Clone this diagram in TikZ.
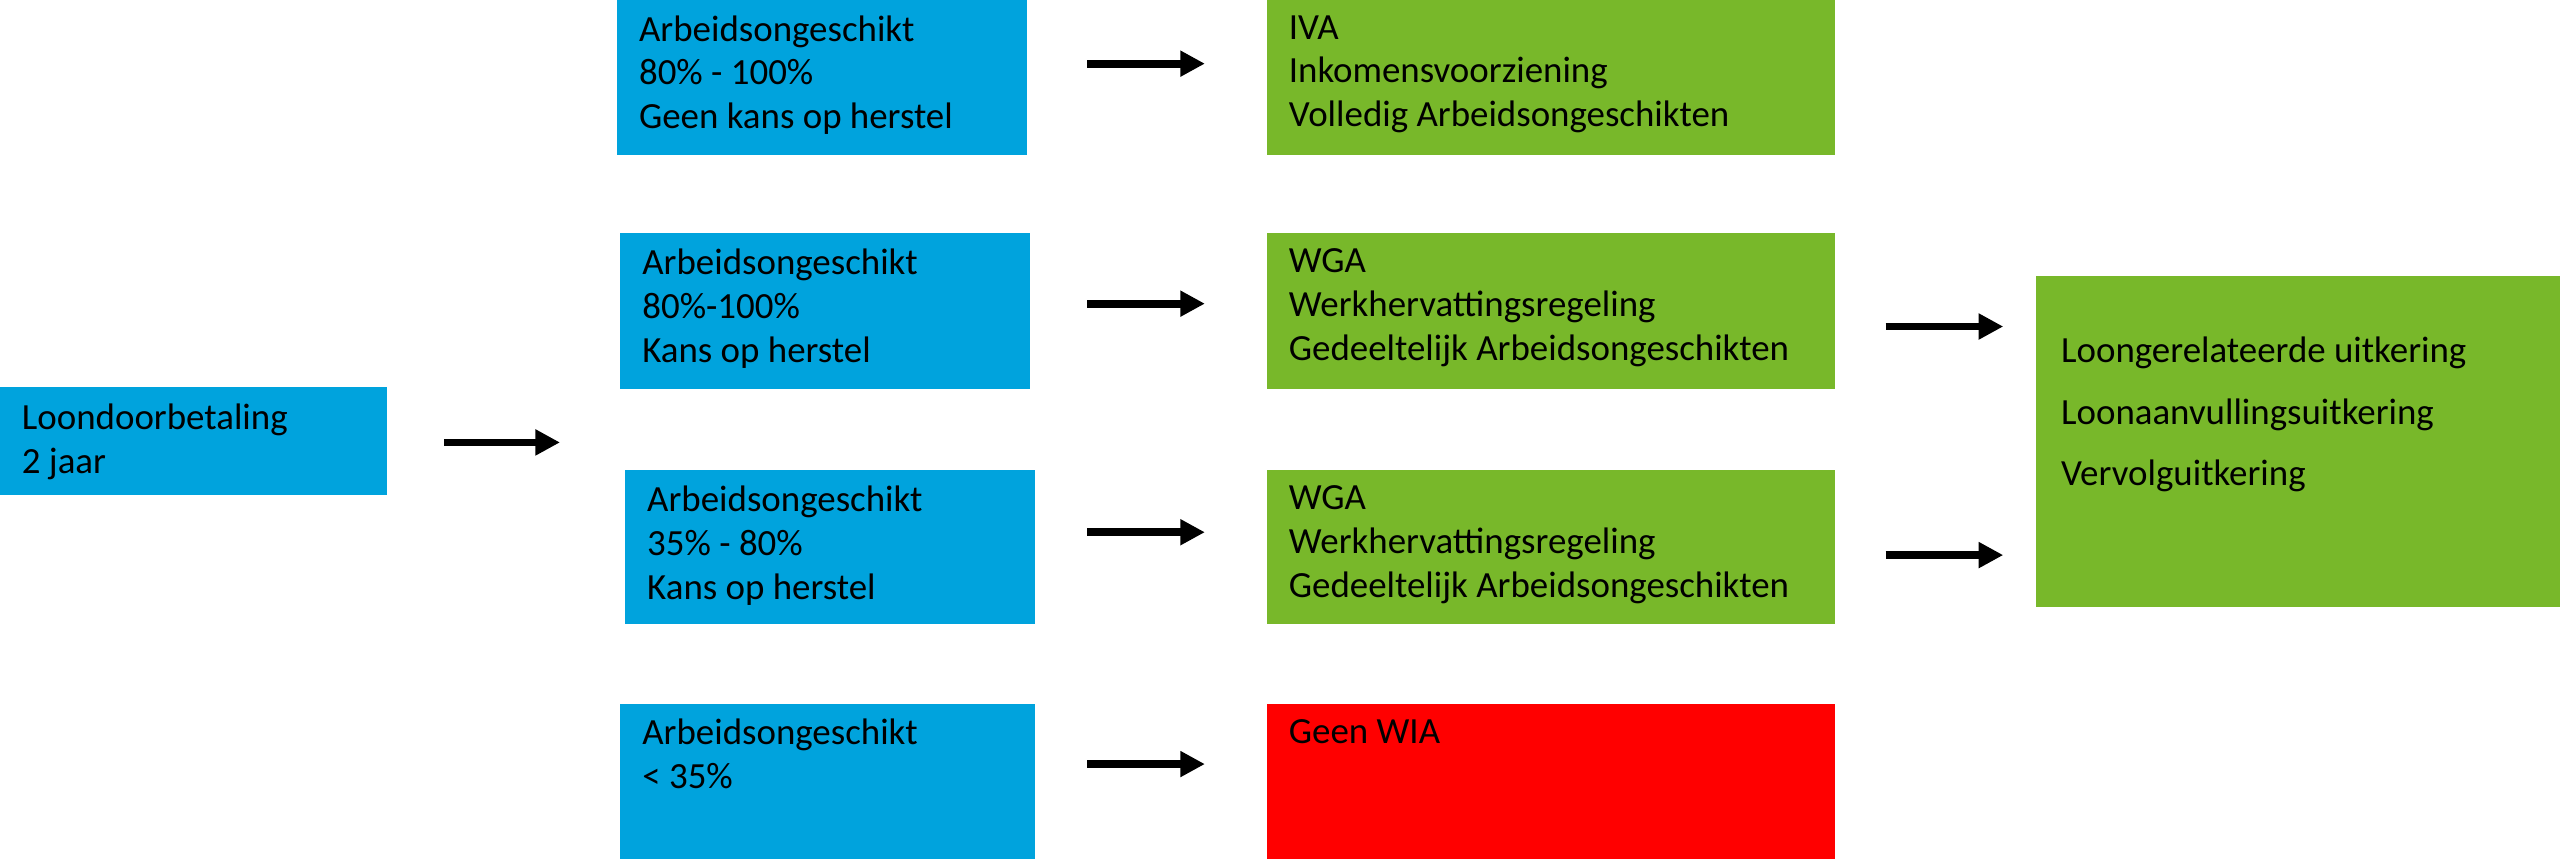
\documentclass[tikz,border=0pt]{standalone}
\usepackage{fontspec}
\setmainfont{Carlito}
\usetikzlibrary{arrows.meta}
\definecolor{cblue}{HTML}{00A3DD}
\definecolor{cgreen}{HTML}{78B82A}
\definecolor{cred}{HTML}{FF0000}
\begin{document}
\begin{tikzpicture}[x=0.01633cm,y=-0.01633cm,
  box/.style={inner sep=0pt},
  txt/.style={anchor=north west,align=left,font=\fontsize{10.5}{12.5}\selectfont,inner sep=0pt},
  arr/.style={line width=2.2pt,-{Triangle[length=7pt,width=7pt]}}]
\useasboundingbox (0,0) rectangle (1568,526);
\newcommand{\bx}[6]{\fill[#6] (#2,#3) rectangle (#4,#5); \coordinate (#1) at (#2,#3);}
\bx{L}{0}{237}{237}{303}{cblue}
\bx{B1}{378}{0}{629}{95}{cblue}
\bx{B2}{380}{143}{631}{238}{cblue}
\bx{B3}{383}{288}{634}{382}{cblue}
\bx{B4}{380}{431}{634}{526}{cblue}
\bx{G1}{776}{0}{1124}{95}{cgreen}
\bx{G2}{776}{143}{1124}{238}{cgreen}
\bx{G3}{776}{288}{1124}{382}{cgreen}
\bx{R}{776}{431}{1124}{526}{cred}
\bx{G4}{1247}{169}{1568}{372}{cgreen}
\node[txt] (tL) at (13,247) {Loondoorbetaling\\2 jaar};
\node[txt] (t1) at (391,9) {Arbeidsongeschikt\\80\% - 100\%\\Geen kans op herstel};
\node[txt] (t2) at (393,152) {Arbeidsongeschikt\\80\%-100\%\\Kans op herstel};
\node[txt] (t3) at (396,297) {Arbeidsongeschikt\\35\% - 80\%\\Kans op herstel};
\node[txt] (t4) at (393,440) {Arbeidsongeschikt\\< 35\%};
\node[txt] (g1) at (789,9) {IVA\\Inkomensvoorziening\\Volledig Arbeidsongeschikten};
\node[txt] (g2) at (789,152) {WGA\\Werkhervattingsregeling\\Gedeeltelijk Arbeidsongeschikten};
\node[txt] (g3) at (789,297) {WGA\\Werkhervattingsregeling\\Gedeeltelijk Arbeidsongeschikten};
\node[txt] (r) at (789,440) {Geen WIA};
\node[txt,font=\fontsize{10.5}{17.5}\selectfont] (g4) at (1262,206) {Loongerelateerde uitkering\\[0pt]Loonaanvullingsuitkering\\[0pt]Vervolguitkering};
\coordinate (a0) at (272,271); \coordinate (b0) at (343,271);
\draw[arr] (a0) -- (b0);
\foreach \y in {39,186,326,468}{\coordinate (a) at (666,\y); \coordinate (b) at (738,\y); \draw[arr] (a) -- (b);}
\foreach \y in {200,340}{\coordinate (a) at (1155,\y); \coordinate (b) at (1227,\y); \draw[arr] (a) -- (b);}
\end{tikzpicture}
\end{document}
